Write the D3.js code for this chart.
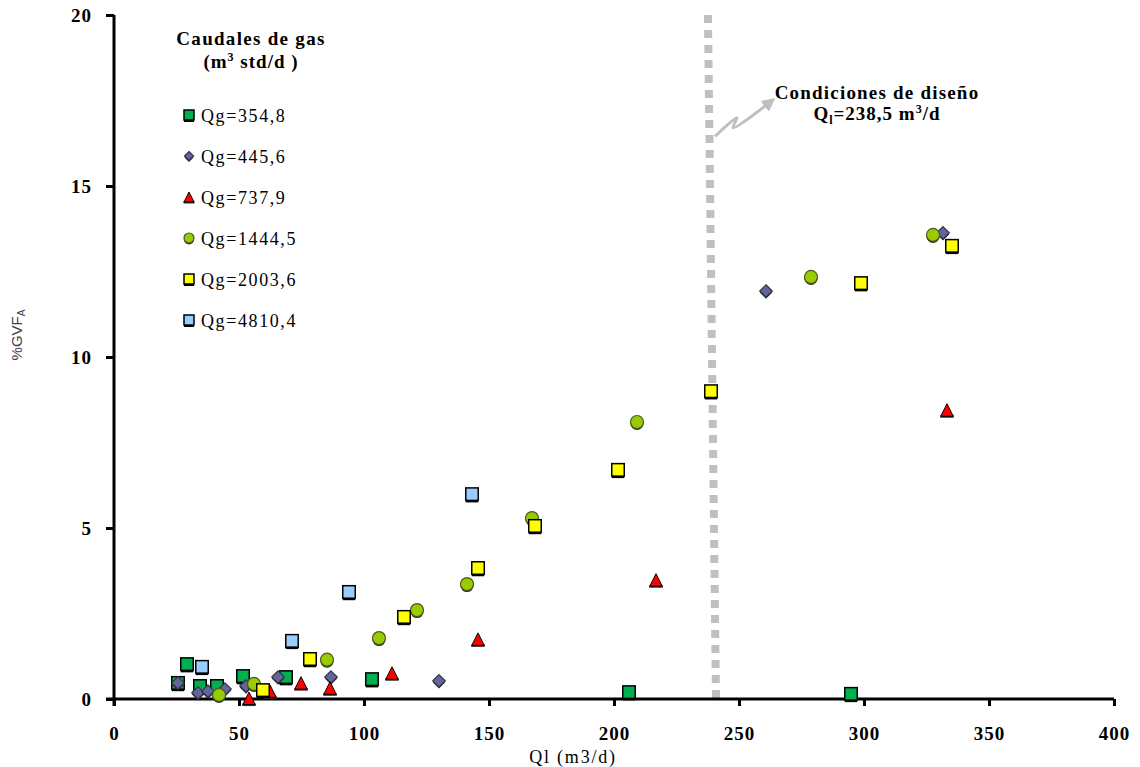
<!DOCTYPE html>
<html>
<head>
<meta charset="utf-8">
<script src="https://cdn.jsdelivr.net/npm/d3@7"></script>
<style>body{margin:0;background:#fff}</style>
</head>
<body>
<script>
// values: [Ql (m3/d), %GVF_A]
const qg354 = [[25.6,0.47],[29.2,1.02],[34.4,0.38],[41.2,0.38],[51.6,0.67],[68.8,0.64],[103.2,0.58],[206,0.2],[294.8,0.15]];
const qg445 = [[25.6,0.47],[33.6,0.18],[37.6,0.23],[44.4,0.29],[52.8,0.38],[65.6,0.64],[86.8,0.64],[130,0.53],[260.8,11.93],[331.6,13.63]];
const qg737 = [[54,0.02],[62.4,0.23],[74.8,0.47],[86.4,0.32],[111.2,0.76],[145.6,1.75],[216.8,3.48],[333.2,8.45]];
const qg1444 = [[42,0.12],[56,0.44],[85.2,1.15],[106,1.78],[121.2,2.6],[141.2,3.36],[167.2,5.29],[209.2,8.1],[278.8,12.34],[327.6,13.57]];
const qg2003 = [[59.6,0.26],[78.4,1.17],[116,2.4],[145.6,3.83],[168.4,5.06],[201.6,6.7],[238.8,9.0],[298.8,12.16],[335.2,13.25]];
const qg4810 = [[35.2,0.94],[71.2,1.7],[94,3.13],[143.2,5.99]];

const seriesLabels = ['Qg=354,8', 'Qg=445,6', 'Qg=737,9', 'Qg=1444,5', 'Qg=2003,6', 'Qg=4810,4'];
const seriesShapes = ['square', 'diamond', 'triangle', 'circle', 'square', 'square'];
const seriesColors = ['#00B050', '#62659B', '#FF0000', '#99CC00', '#FFFF00', '#99CCFF'];
const seriesData = [qg354, qg445, qg737, qg1444, qg2003, qg4810];

const xTicks = [0, 50, 100, 150, 200, 250, 300, 350, 400];
const yTicks = [0, 5, 10, 15, 20];

// design condition line and the zigzag arrow pointing to its label
const designLine = [[237.6, 20], [240.8, 0]];
const arrowPts = [[240.4, 16.45], [249.2, 17.0], [247.6, 16.7], [262.4, 17.45]];

const W = 1140, H = 767;
const margin = { top: 15, right: 26, bottom: 68, left: 114 };

const svg = d3.select('body').append('svg')
    .attr('width', W)
    .attr('height', H)
    .style('font-family', '"Liberation Serif", "Times New Roman", serif');

const x = d3.scaleLinear().domain([0, 400]).range([margin.left, W - margin.right]);
const y = d3.scaleLinear().domain([0, 20]).range([H - margin.bottom, margin.top]);

// dashed design line (drawn first, under the markers)
svg.append('path')
    .datum(designLine)
    .attr('fill', 'none')
    .attr('stroke', '#C0C0C0')
    .attr('stroke-width', 8)
    .attr('stroke-dasharray', '8,7')
    .attr('d', d3.line().x(d => x(d[0])).y(d => y(d[1])));

// axes
const xAxis = svg.append('g')
    .attr('transform', `translate(0,${y(0)})`)
    .call(d3.axisBottom(x).tickValues(xTicks).tickSize(7).tickSizeOuter(0).tickPadding(21));
const yAxis = svg.append('g')
    .attr('transform', `translate(${x(0)},0)`)
    .call(d3.axisLeft(y).tickValues(yTicks).tickSize(8).tickSizeOuter(0).tickPadding(14));

[xAxis, yAxis].forEach(a => {
    a.select('.domain').attr('stroke', '#000').attr('stroke-width', 3);
    a.selectAll('.tick line').attr('stroke', '#000').attr('stroke-width', 3);
    a.selectAll('.tick text')
        .attr('fill', '#000')
        .style('font-size', '19px')
        .style('font-weight', 'bold')
        .style('letter-spacing', '1px')
        .style('font-family', '"Liberation Serif", serif');
});
xAxis.select('.domain').attr('d', `M${x(0) - 8},0H${x(400)}`);
yAxis.select('.domain').attr('d', `M0,${y(0) + 7}V${y(20)}`);

// marker drawing
function drawMarker(g, shape, fill, s) {
    if (shape === 'square') {
        g.append('rect').attr('x', -s / 2).attr('y', -s / 2 + 2).attr('width', s).attr('height', s).attr('fill', '#000');
        g.append('rect').attr('x', -s / 2).attr('y', -s / 2).attr('width', s).attr('height', s)
            .attr('fill', fill).attr('stroke', '#000').attr('stroke-width', 1.5);
    } else if (shape === 'circle') {
        g.append('circle').attr('cy', 1.5).attr('r', s / 2).attr('fill', '#2a2a2a');
        g.append('circle').attr('r', s / 2).attr('fill', fill).attr('stroke', '#4a5a20').attr('stroke-width', 1.2);
    } else if (shape === 'diamond') {
        const h = s / 2;
        g.append('path').attr('d', `M0,${-h + 1.5}L${h},1.5L0,${h + 1.5}L${-h},1.5Z`).attr('fill', '#222');
        g.append('path').attr('d', `M0,${-h}L${h},0L0,${h}L${-h},0Z`)
            .attr('fill', fill).attr('stroke', '#333345').attr('stroke-width', 1.2);
    } else if (shape === 'triangle') {
        const h = s / 2;
        g.append('rect').attr('x', -h - 0.5).attr('y', h - 1).attr('width', s + 1).attr('height', 2.5).attr('fill', '#333');
        g.append('path').attr('d', `M0,${-h}L${h},${h}L${-h},${h}Z`)
            .attr('fill', fill).attr('stroke', '#000').attr('stroke-width', 1);
    }
}

const markerSize = { square: 12.5, circle: 13, diamond: 12.5, triangle: 12.5 };

seriesData.forEach((data, i) => {
    svg.append('g').selectAll('g')
        .data(data)
        .join('g')
        .attr('transform', d => `translate(${x(d[0])},${y(d[1])})`)
        .each(function () {
            drawMarker(d3.select(this), seriesShapes[i], seriesColors[i], markerSize[seriesShapes[i]]);
        });
});

// legend
const legend = svg.append('g');
legend.append('text')
    .attr('x', 251).attr('y', 45)
    .attr('text-anchor', 'middle')
    .style('font-size', '19px').style('font-weight', 'bold').style('letter-spacing', '1.3px')
    .text('Caudales de gas');
const lt2 = legend.append('text')
    .attr('x', 251).attr('y', 68)
    .attr('text-anchor', 'middle')
    .style('font-size', '19px').style('font-weight', 'bold').style('letter-spacing', '1px');
lt2.append('tspan').text('(m');
lt2.append('tspan').attr('dy', -7).style('font-size', '12px').text('3');
lt2.append('tspan').attr('dy', 7).text(' std/d )');

const legendSize = { square: 10, circle: 10, diamond: 9, triangle: 10 };
seriesLabels.forEach((lab, i) => {
    const row = legend.append('g').attr('transform', `translate(189,${115 + i * 41})`);
    drawMarker(row, seriesShapes[i], seriesColors[i], legendSize[seriesShapes[i]]);
    row.append('text')
        .attr('x', 12).attr('y', 7)
        .style('font-size', '18px')
        .style('letter-spacing', '1.6px')
        .text(lab);
});

// axis titles
svg.append('text')
    .attr('x', 573).attr('y', 763)
    .attr('text-anchor', 'middle')
    .style('font-size', '18px')
    .style('letter-spacing', '1.8px')
    .text('Ql  (m3/d)');

const yl = svg.append('text')
    .attr('transform', 'translate(22,335) rotate(-90)')
    .attr('text-anchor', 'middle')
    .attr('fill', '#404040')
    .style('font-family', '"Liberation Sans", Arial, sans-serif')
    .style('font-size', '15px');
yl.append('tspan').text('%GVF');
yl.append('tspan').attr('dy', 3).style('font-size', '10px').text('A');

// design annotation
svg.append('defs').append('marker')
    .attr('id', 'ah')
    .attr('viewBox', '0 0 10 10')
    .attr('refX', 5).attr('refY', 5)
    .attr('markerWidth', 4.5).attr('markerHeight', 4.5)
    .attr('orient', 'auto')
    .append('path').attr('d', 'M0,0L10,5L0,10Z').attr('fill', '#BFBFBF');

svg.append('path')
    .datum(arrowPts)
    .attr('fill', 'none')
    .attr('stroke', '#BFBFBF')
    .attr('stroke-width', 3)
    .attr('stroke-linejoin', 'round')
    .attr('marker-end', 'url(#ah)')
    .attr('d', d3.line().curve(d3.curveCatmullRom).x(d => x(d[0])).y(d => y(d[1])));

svg.append('text')
    .attr('x', 877).attr('y', 99)
    .attr('text-anchor', 'middle')
    .style('font-size', '19px').style('font-weight', 'bold').style('letter-spacing', '1.2px')
    .text('Condiciones de diseño');
const q = svg.append('text')
    .attr('x', 877).attr('y', 120)
    .attr('text-anchor', 'middle')
    .style('font-size', '19px').style('font-weight', 'bold').style('letter-spacing', '1px');
q.append('tspan').text('Q');
q.append('tspan').attr('dy', 4).style('font-size', '12px').text('l');
q.append('tspan').attr('dy', -4).text('=238,5 m');
q.append('tspan').attr('dy', -7).style('font-size', '12px').text('3');
q.append('tspan').attr('dy', 7).text('/d');
</script>
</body>
</html>
